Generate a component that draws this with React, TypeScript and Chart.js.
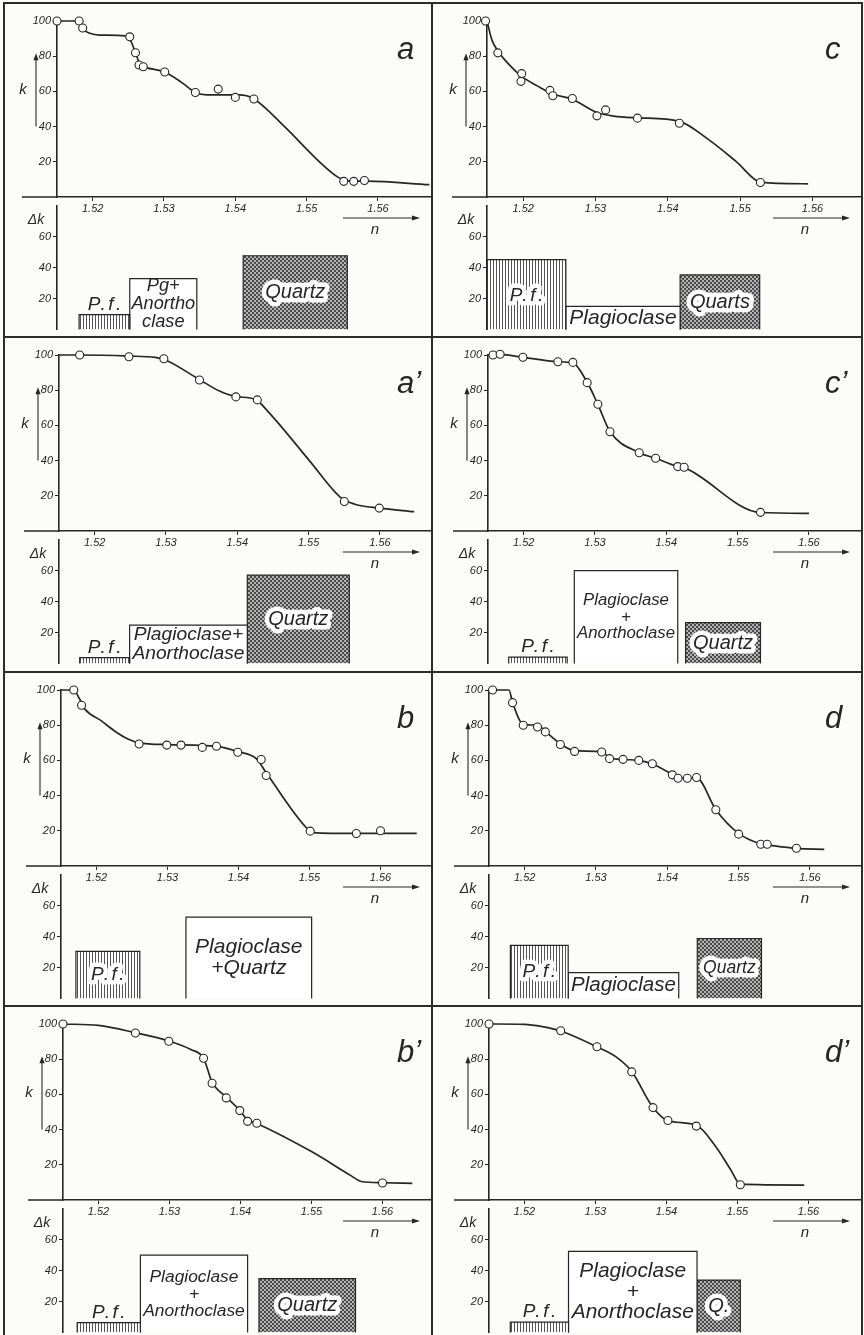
import React, { useEffect, useRef } from 'react';
import { Chart, registerables } from 'chart.js';

Chart.register(...registerables);

type Pt = [number, number];
type Bar = [number, number, number, string, 'pf' | 'mix' | 'quartz'];

// ---------- axis ticks ----------
const N_TICKS = [1.52, 1.53, 1.54, 1.55, 1.56];
const K_TICKS = [20, 40, 60, 80, 100];
const DK_TICKS = [20, 40, 60];
const N_MIN = 1.515;

// ---------- panel a ----------
const aPoints: Pt[] = [[1.515, 100], [1.5181, 100], [1.5186, 96], [1.5252, 91], [1.526, 82], [1.5265, 75], [1.5271, 74], [1.5301, 71], [1.5344, 59.4], [1.5376, 61.3], [1.54, 56.6], [1.5426, 55.7], [1.5552, 8.9], [1.5566, 8.9], [1.5581, 9.4]];
const aCurve: Pt[] = [[1.515, 100], [1.5181, 100], [1.5188, 95], [1.5196, 93], [1.521, 92], [1.5245, 91.5], [1.5253, 89], [1.526, 82], [1.5267, 75], [1.5275, 73.5], [1.5301, 71], [1.5325, 65], [1.5344, 59.5], [1.536, 58], [1.5405, 58], [1.5425, 56], [1.5469, 40], [1.5518, 20], [1.5545, 11], [1.5558, 9.2], [1.5585, 9], [1.5672, 7]];
const aBars: Bar[] = [[1.5181, 1.5252, 9.5, 'P.f.', 'pf'], [1.5252, 1.5346, 32.8, 'Pg+\nAnortho\nclase', 'mix'], [1.5411, 1.5557, 47.6, 'Quartz', 'quartz']];

// ---------- panel c ----------
const cPoints: Pt[] = [[1.5148, 100], [1.5165, 81.9], [1.5198, 70.1], [1.5197, 65.7], [1.5237, 60.6], [1.5241, 57.5], [1.5268, 56], [1.5302, 46.1], [1.5314, 49.5], [1.5358, 44.8], [1.5416, 41.9], [1.5528, 8.2]];
const cCurve: Pt[] = [[1.515, 100], [1.5157, 89], [1.5165, 83], [1.518, 75.5], [1.5198, 68.5], [1.522, 63], [1.5241, 58.5], [1.5268, 55.5], [1.5302, 48], [1.5325, 46], [1.5358, 45], [1.5416, 43], [1.5455, 33], [1.5495, 20], [1.5528, 8.5], [1.5594, 7.5]];
const cBars: Bar[] = [[1.515, 1.5259, 45.1, 'P.f.', 'pf'], [1.5259, 1.5417, 14.9, 'Plagioclase', 'mix'], [1.5417, 1.5527, 35.2, 'Quarts', 'quartz']];

// ---------- panel a' ----------
const apPoints: Pt[] = [[1.5179, 100], [1.5248, 99], [1.5297, 97.9], [1.5347, 85.8], [1.5398, 76.2], [1.5428, 74.5], [1.555, 16.8], [1.5599, 13]];
const apCurve: Pt[] = [[1.515, 100], [1.5179, 100], [1.5248, 99.4], [1.5285, 98.6], [1.5297, 97.6], [1.5347, 86], [1.5375, 79.5], [1.5398, 76.4], [1.5425, 74.8], [1.5445, 67], [1.5501, 40], [1.5545, 19], [1.5565, 15.2], [1.5599, 13], [1.5648, 11]];
const apBars: Bar[] = [[1.5179, 1.5249, 3.7, 'P.f.', 'pf'], [1.5249, 1.5414, 24.7, 'Plagioclase+\nAnorthoclase', 'mix'], [1.5414, 1.5557, 57, 'Quartz', 'quartz']];

// ---------- panel c' ----------
const cpPoints: Pt[] = [[1.5157, 100], [1.5167, 100.4], [1.5199, 98.7], [1.5248, 96.2], [1.5269, 95.8], [1.5289, 84.3], [1.5304, 72], [1.5321, 56.4], [1.5362, 44.5], [1.5385, 41.3], [1.5416, 36.6], [1.5425, 36.2], [1.5532, 10.6]];
const cpCurve: Pt[] = [[1.515, 100], [1.5167, 100.4], [1.5199, 98.7], [1.5248, 96.2], [1.5269, 95.5], [1.5289, 84.5], [1.5304, 72], [1.5321, 56.5], [1.5362, 44.5], [1.5385, 41.3], [1.5416, 36.6], [1.5425, 36], [1.5532, 10.5], [1.56, 10]];
const cpBars: Bar[] = [[1.5179, 1.5261, 4.1, 'P.f.', 'pf'], [1.5271, 1.5416, 60, 'Plagioclase\n+\nAnorthoclase', 'mix'], [1.5427, 1.5532, 26.4, 'Quartz', 'quartz']];

// ---------- panel b ----------
const bPoints: Pt[] = [[1.5168, 100], [1.5179, 91.3], [1.526, 69.3], [1.5299, 68.7], [1.5319, 68.7], [1.5349, 67.4], [1.5369, 68], [1.5399, 64.6], [1.5432, 60.5], [1.5439, 51.4], [1.5501, 19.8], [1.5566, 18.5], [1.56, 20]];
const bCurve: Pt[] = [[1.515, 100], [1.5168, 100], [1.5176, 95], [1.5184, 89], [1.5205, 83], [1.5228, 76], [1.5245, 72], [1.526, 70], [1.53, 69], [1.5369, 68], [1.5399, 65], [1.5425, 61], [1.5439, 53], [1.5495, 22], [1.5505, 19], [1.5566, 18.5], [1.5651, 18.5]];
const bBars: Bar[] = [[1.5171, 1.5261, 30.4, 'P.f.', 'pf'], [1.5326, 1.5503, 52.5, 'Plagioclase\n+Quartz', 'mix']];

// ---------- panel d ----------
const dPoints: Pt[] = [[1.5155, 100], [1.5183, 92.8], [1.5198, 80], [1.5218, 79], [1.5229, 76.2], [1.525, 69], [1.527, 65.1], [1.5308, 64.8], [1.5319, 61], [1.5338, 60.6], [1.536, 60], [1.5379, 58.1], [1.5407, 51.8], [1.5415, 49.9], [1.5428, 49.9], [1.5441, 50.3], [1.5468, 32], [1.55, 18.1], [1.5531, 12.4], [1.554, 12.4], [1.5581, 10.1]];
const dCurve: Pt[] = [[1.515, 100], [1.5178, 100], [1.5183, 93], [1.5198, 80.5], [1.5218, 80], [1.5229, 76.5], [1.525, 69.5], [1.527, 65.5], [1.5308, 65], [1.5319, 61.5], [1.5338, 60.5], [1.536, 60], [1.5379, 58], [1.5407, 52], [1.5415, 50], [1.5441, 50], [1.5468, 32], [1.55, 18.5], [1.5531, 12.5], [1.554, 12], [1.5581, 10], [1.562, 9.5]];
const dBars: Bar[] = [[1.518, 1.5261, 34.3, 'P.f.', 'pf'], [1.5261, 1.5416, 16.6, 'Plagioclase', 'mix'], [1.5442, 1.5532, 38.7, 'Quartz', 'quartz']];

// ---------- panel b' ----------
const bpPoints: Pt[] = [[1.515, 100], [1.5252, 94.9], [1.5299, 90.2], [1.5348, 80.5], [1.536, 66.3], [1.538, 58], [1.5399, 50.8], [1.541, 44.7], [1.5423, 43.6], [1.56, 9.7]];
const bpCurve: Pt[] = [[1.515, 100], [1.52, 99.2], [1.5252, 95], [1.5299, 90.3], [1.533, 85.5], [1.5348, 80.5], [1.536, 67], [1.538, 58.5], [1.5399, 51], [1.541, 45.5], [1.5423, 43.5], [1.55, 27.5], [1.5555, 14], [1.557, 10.5], [1.56, 9.8], [1.5642, 9.5]];
const bpBars: Bar[] = [[1.517, 1.5259, 6.3, 'P.f.', 'pf'], [1.5259, 1.541, 49.9, 'Plagioclase\n+\nAnorthoclase', 'mix'], [1.5426, 1.5562, 34.7, 'Quartz', 'quartz']];

// ---------- panel d' ----------
const dpPoints: Pt[] = [[1.515, 100], [1.5251, 96.2], [1.5302, 87.1], [1.5351, 72.8], [1.5381, 52.5], [1.5402, 45.2], [1.5442, 42], [1.5504, 8.7]];
const dpCurve: Pt[] = [[1.515, 100], [1.52, 99.8], [1.5225, 98.5], [1.5251, 96], [1.5302, 87], [1.533, 81], [1.5351, 73], [1.5381, 52.5], [1.5402, 45], [1.5442, 42.5], [1.547, 30], [1.549, 17.5], [1.5504, 9], [1.5594, 8.5]];
const dpBars: Bar[] = [[1.518, 1.5262, 6.7, 'P.f.', 'pf'], [1.5262, 1.5443, 52.4, 'Plagioclase\n+\nAnorthoclase', 'mix'], [1.5443, 1.5504, 33.8, 'Q.', 'quartz']];

// ---------- layout / style constants ----------
const INK = '#262626';
const FONT = '"Liberation Sans", "DejaVu Sans", sans-serif';
const ROW_TOP = [3, 337, 672, 1006];
const COL_LEFT = [5, 433];
const COL_WIDTH = [427, 429];
const K0 = 194;
const K100 = 18;
const DK0 = 335;
const TOP_H = 240;

const PANELS = [
  { letter: 'a', points: aPoints, curve: aCurve, bars: aBars, row: 0, col: 0, axis: 52, pxPerN: 7133 },
  { letter: 'c', points: cPoints, curve: cCurve, bars: cBars, row: 0, col: 1, axis: 54, pxPerN: 7233 },
  { letter: 'a\u2019', points: apPoints, curve: apCurve, bars: apBars, row: 1, col: 0, axis: 54, pxPerN: 7133 },
  { letter: 'c\u2019', points: cpPoints, curve: cpCurve, bars: cpBars, row: 1, col: 1, axis: 55, pxPerN: 7133 },
  { letter: 'b', points: bPoints, curve: bCurve, bars: bBars, row: 2, col: 0, axis: 56, pxPerN: 7100 },
  { letter: 'd', points: dPoints, curve: dCurve, bars: dBars, row: 2, col: 1, axis: 56, pxPerN: 7133 },
  { letter: 'b\u2019', points: bpPoints, curve: bpCurve, bars: bpBars, row: 3, col: 0, axis: 58, pxPerN: 7100 },
  { letter: 'd\u2019', points: dpPoints, curve: dpCurve, bars: dpBars, row: 3, col: 1, axis: 56, pxPerN: 7100 },
];

function makeHatch(): CanvasPattern {
  const c = document.createElement('canvas');
  c.width = 3; c.height = 3;
  const g = c.getContext('2d')!;
  g.fillStyle = '#ffffff'; g.fillRect(0, 0, 3, 3);
  g.fillStyle = '#555555'; g.fillRect(0, 0, 1, 3);
  return g.createPattern(c, 'repeat')!;
}

function makeCross(): CanvasPattern {
  const c = document.createElement('canvas');
  c.width = 4; c.height = 4;
  const g = c.getContext('2d')!;
  g.fillStyle = '#b4b4b4'; g.fillRect(0, 0, 4, 4);
  g.fillStyle = '#4a4a4a';
  for (let i = 0; i < 4; i++) { g.fillRect(i, i, 1, 1); g.fillRect(3 - i, i, 1, 1); }
  return g.createPattern(c, 'repeat')!;
}

function tickFont(size = 11) {
  return { family: FONT, size, style: 'italic' as const };
}

function topConfig(p: any, w: number): any {
  const xMax = N_MIN + (w - p.axis) / p.pxPerN;
  const decor = {
    id: 'topDecor',
    afterDraw(chart: any) {
      const { ctx, chartArea: ca, scales } = chart;
      const y = scales.y;
      ctx.save();
      ctx.strokeStyle = INK; ctx.fillStyle = INK;
      ctx.lineWidth = 1.6;
      ctx.beginPath(); ctx.moveTo(ca.left - 35, ca.bottom); ctx.lineTo(ca.left, ca.bottom); ctx.stroke();
      const ax = ca.left - 21;
      const yb = y.getPixelForValue(40), yt = y.getPixelForValue(80);
      ctx.lineWidth = 1.1;
      ctx.beginPath(); ctx.moveTo(ax, yb); ctx.lineTo(ax, yt + 2); ctx.stroke();
      ctx.beginPath(); ctx.moveTo(ax, yt - 3); ctx.lineTo(ax - 2.6, yt + 4); ctx.lineTo(ax + 2.6, yt + 4); ctx.closePath(); ctx.fill();
      ctx.font = `italic 15px ${FONT}`;
      ctx.textAlign = 'center'; ctx.textBaseline = 'middle';
      ctx.fillText('k', ca.left - 34, y.getPixelForValue(61));
      const ny = ca.bottom + 21;
      const nx0 = ca.right - 89, nx1 = ca.right - 14;
      ctx.beginPath(); ctx.moveTo(nx0, ny); ctx.lineTo(nx1 - 3, ny); ctx.stroke();
      ctx.beginPath(); ctx.moveTo(nx1 + 2, ny); ctx.lineTo(nx1 - 6, ny - 2.6); ctx.lineTo(nx1 - 6, ny + 2.6); ctx.closePath(); ctx.fill();
      ctx.font = `italic 15px ${FONT}`;
      ctx.fillText('n', ca.right - 57, ca.bottom + 33);
      ctx.font = `italic 31px ${FONT}`;
      ctx.textAlign = 'left'; ctx.textBaseline = 'alphabetic';
      ctx.fillText(p.letter, 392, 56);
      ctx.restore();
    },
  };
  return {
    type: 'line',
    data: {
      datasets: [
        {
          data: p.points.map(([x, y]: Pt) => ({ x, y })),
          showLine: false,
          pointRadius: 4,
          pointBackgroundColor: '#ffffff',
          pointBorderColor: INK,
          pointBorderWidth: 1.1,
          borderColor: INK,
          clip: false,
        },
        {
          data: p.curve.map(([x, y]: Pt) => ({ x, y })),
          borderColor: INK,
          borderWidth: 1.7,
          pointRadius: 0,
          cubicInterpolationMode: 'monotone',
          fill: false,
          clip: false,
        },
      ],
    },
    options: {
      animation: false,
      responsive: false,
      devicePixelRatio: 1,
      events: [],
      layout: { autoPadding: false, padding: { top: K100, right: 0, left: 0, bottom: 0 } },
      plugins: { legend: { display: false }, tooltip: { enabled: false } },
      scales: {
        x: {
          type: 'linear',
          min: N_MIN,
          max: xMax,
          afterFit: (s: any) => { s.height = TOP_H - K0; },
          afterBuildTicks: (s: any) => { s.ticks = N_TICKS.map((v) => ({ value: v })); },
          grid: { drawOnChartArea: false, color: INK, lineWidth: 1, tickLength: 4 },
          border: { display: true, color: INK, width: 1.6 },
          ticks: { font: tickFont(11), color: INK, padding: 1, maxRotation: 0, autoSkip: false, callback: (v: any) => Number(v).toFixed(2) },
        },
        y: {
          type: 'linear',
          min: 0,
          max: 100,
          afterFit: (s: any) => { s.width = p.axis; },
          afterBuildTicks: (s: any) => { s.ticks = K_TICKS.map((v) => ({ value: v })); },
          grid: { drawOnChartArea: false, color: INK, lineWidth: 1, tickLength: 4 },
          border: { display: true, color: INK, width: 1.6 },
          ticks: { font: tickFont(11), color: INK, padding: 2 },
        },
      },
    },
    plugins: [decor],
  };
}

function bottomConfig(p: any, w: number): any {
  const xMax = N_MIN + (w - p.axis) / p.pxPerN;
  const hatch = makeHatch();
  const cross = makeCross();
  const labels = {
    id: 'barLabels',
    afterDatasetsDraw(chart: any) {
      const { ctx, chartArea: ca, scales } = chart;
      const { x, y } = scales;
      ctx.save();
      ctx.fillStyle = INK;
      ctx.textAlign = 'center'; ctx.textBaseline = 'middle';
      ctx.font = `italic 14px ${FONT}`;
      ctx.fillText('\u0394k', ca.left - 21, ca.top + 15);
      p.bars.forEach(([s, e, h, label, kind]: Bar) => {
        const x0 = x.getPixelForValue(s), x1 = x.getPixelForValue(e);
        const bw = x1 - x0;
        const cx = (x0 + x1) / 2;
        const lines = label.split('\n');
        const above = h < 12;
        const cv = above ? h + 6.5 : (kind === 'pf' ? Math.min(h / 2, 22) : h / 2);
        let size = 19;
        let spacing = 0;
        if (kind === 'pf') {
          spacing = 2.5;
        } else {
          ctx.font = `italic 20px ${FONT}`;
          (ctx as any).letterSpacing = '0px';
          const widest = Math.max(...lines.map((l) => ctx.measureText(l).width));
          const ratio = kind === 'quartz' ? 0.82 : 0.95;
          const cap = kind === 'quartz' ? 20 : 21;
          size = Math.min(cap, (20 * ratio * bw) / widest);
        }
        ctx.font = `italic ${size.toFixed(1)}px ${FONT}`;
        (ctx as any).letterSpacing = `${spacing}px`;
        const lh = size * 0.98;
        const cy = y.getPixelForValue(cv);
        lines.forEach((ln, i) => {
          const ly = cy + (i - (lines.length - 1) / 2) * lh;
          const lx = cx + spacing / 2;
          if (!above && kind !== 'mix') {
            ctx.strokeStyle = '#ffffff';
            ctx.lineWidth = 9;
            ctx.lineJoin = 'round';
            ctx.strokeText(ln, lx, ly);
          }
          ctx.fillStyle = INK;
          ctx.fillText(ln, lx, ly);
        });
      });
      (ctx as any).letterSpacing = '0px';
      ctx.restore();
    },
  };
  return {
    type: 'line',
    data: {
      datasets: p.bars.map(([s, e, h, , kind]: Bar) => ({
        data: [{ x: s, y: 0 }, { x: s, y: h }, { x: e, y: h }, { x: e, y: 0 }],
        borderColor: INK,
        borderWidth: 1.2,
        backgroundColor: kind === 'pf' ? hatch : kind === 'quartz' ? cross : '#ffffff',
        fill: 'origin',
        pointRadius: 0,
        tension: 0,
        clip: false,
      })),
    },
    options: {
      animation: false,
      responsive: false,
      devicePixelRatio: 1,
      events: [],
      layout: { autoPadding: false, padding: 0 },
      plugins: { legend: { display: false }, tooltip: { enabled: false } },
      scales: {
        x: { type: 'linear', min: N_MIN, max: xMax, display: false },
        y: {
          type: 'linear',
          min: 0,
          max: 80,
          afterFit: (s: any) => { s.width = p.axis; },
          afterBuildTicks: (s: any) => { s.ticks = DK_TICKS.map((v) => ({ value: v })); },
          grid: { drawOnChartArea: false, color: INK, lineWidth: 1, tickLength: 4 },
          border: { display: true, color: INK, width: 1.6 },
          ticks: { font: tickFont(11), color: INK, padding: 2 },
        },
      },
    },
    plugins: [labels],
  };
}

function ChartBox({ x, y, w, h, make }: { x: number; y: number; w: number; h: number; make: () => any }) {
  const ref = useRef<HTMLCanvasElement>(null);
  useEffect(() => {
    const chart = new Chart(ref.current!, make());
    return () => chart.destroy();
  }, []);
  return (
    <canvas
      ref={ref}
      width={w}
      height={h}
      style={{ position: 'absolute', left: x, top: y, width: w, height: h }}
    />
  );
}

function Panel({ p }: { p: any }) {
  const left = COL_LEFT[p.col];
  const top = ROW_TOP[p.row];
  const w = COL_WIDTH[p.col];
  return (
    <>
      <ChartBox x={left} y={top + K0} w={w} h={DK0 - K0} make={() => bottomConfig(p, w)} />
      <ChartBox x={left} y={top} w={w} h={TOP_H} make={() => topConfig(p, w)} />
    </>
  );
}

const line = (l: number, t: number, w: number, h: number) => (
  <div style={{ position: 'absolute', left: l, top: t, width: w, height: h, background: '#2c2c2c' }} />
);

export default function App() {
  return (
    <div
      style={{
        position: 'absolute',
        left: 0,
        top: 0,
        width: 864,
        height: 1335,
        overflow: 'hidden',
        background: '#fcfcfb',
      }}
    >
      {PANELS.map((p) => (
        <Panel key={p.letter} p={p} />
      ))}
      {line(3, 2, 860, 2)}
      {line(3, 2, 2, 1333)}
      {line(861, 2, 2, 1333)}
      {line(431, 2, 2, 1333)}
      {line(3, 336, 860, 2)}
      {line(3, 671, 860, 2)}
      {line(3, 1005, 860, 2)}
    </div>
  );
}
